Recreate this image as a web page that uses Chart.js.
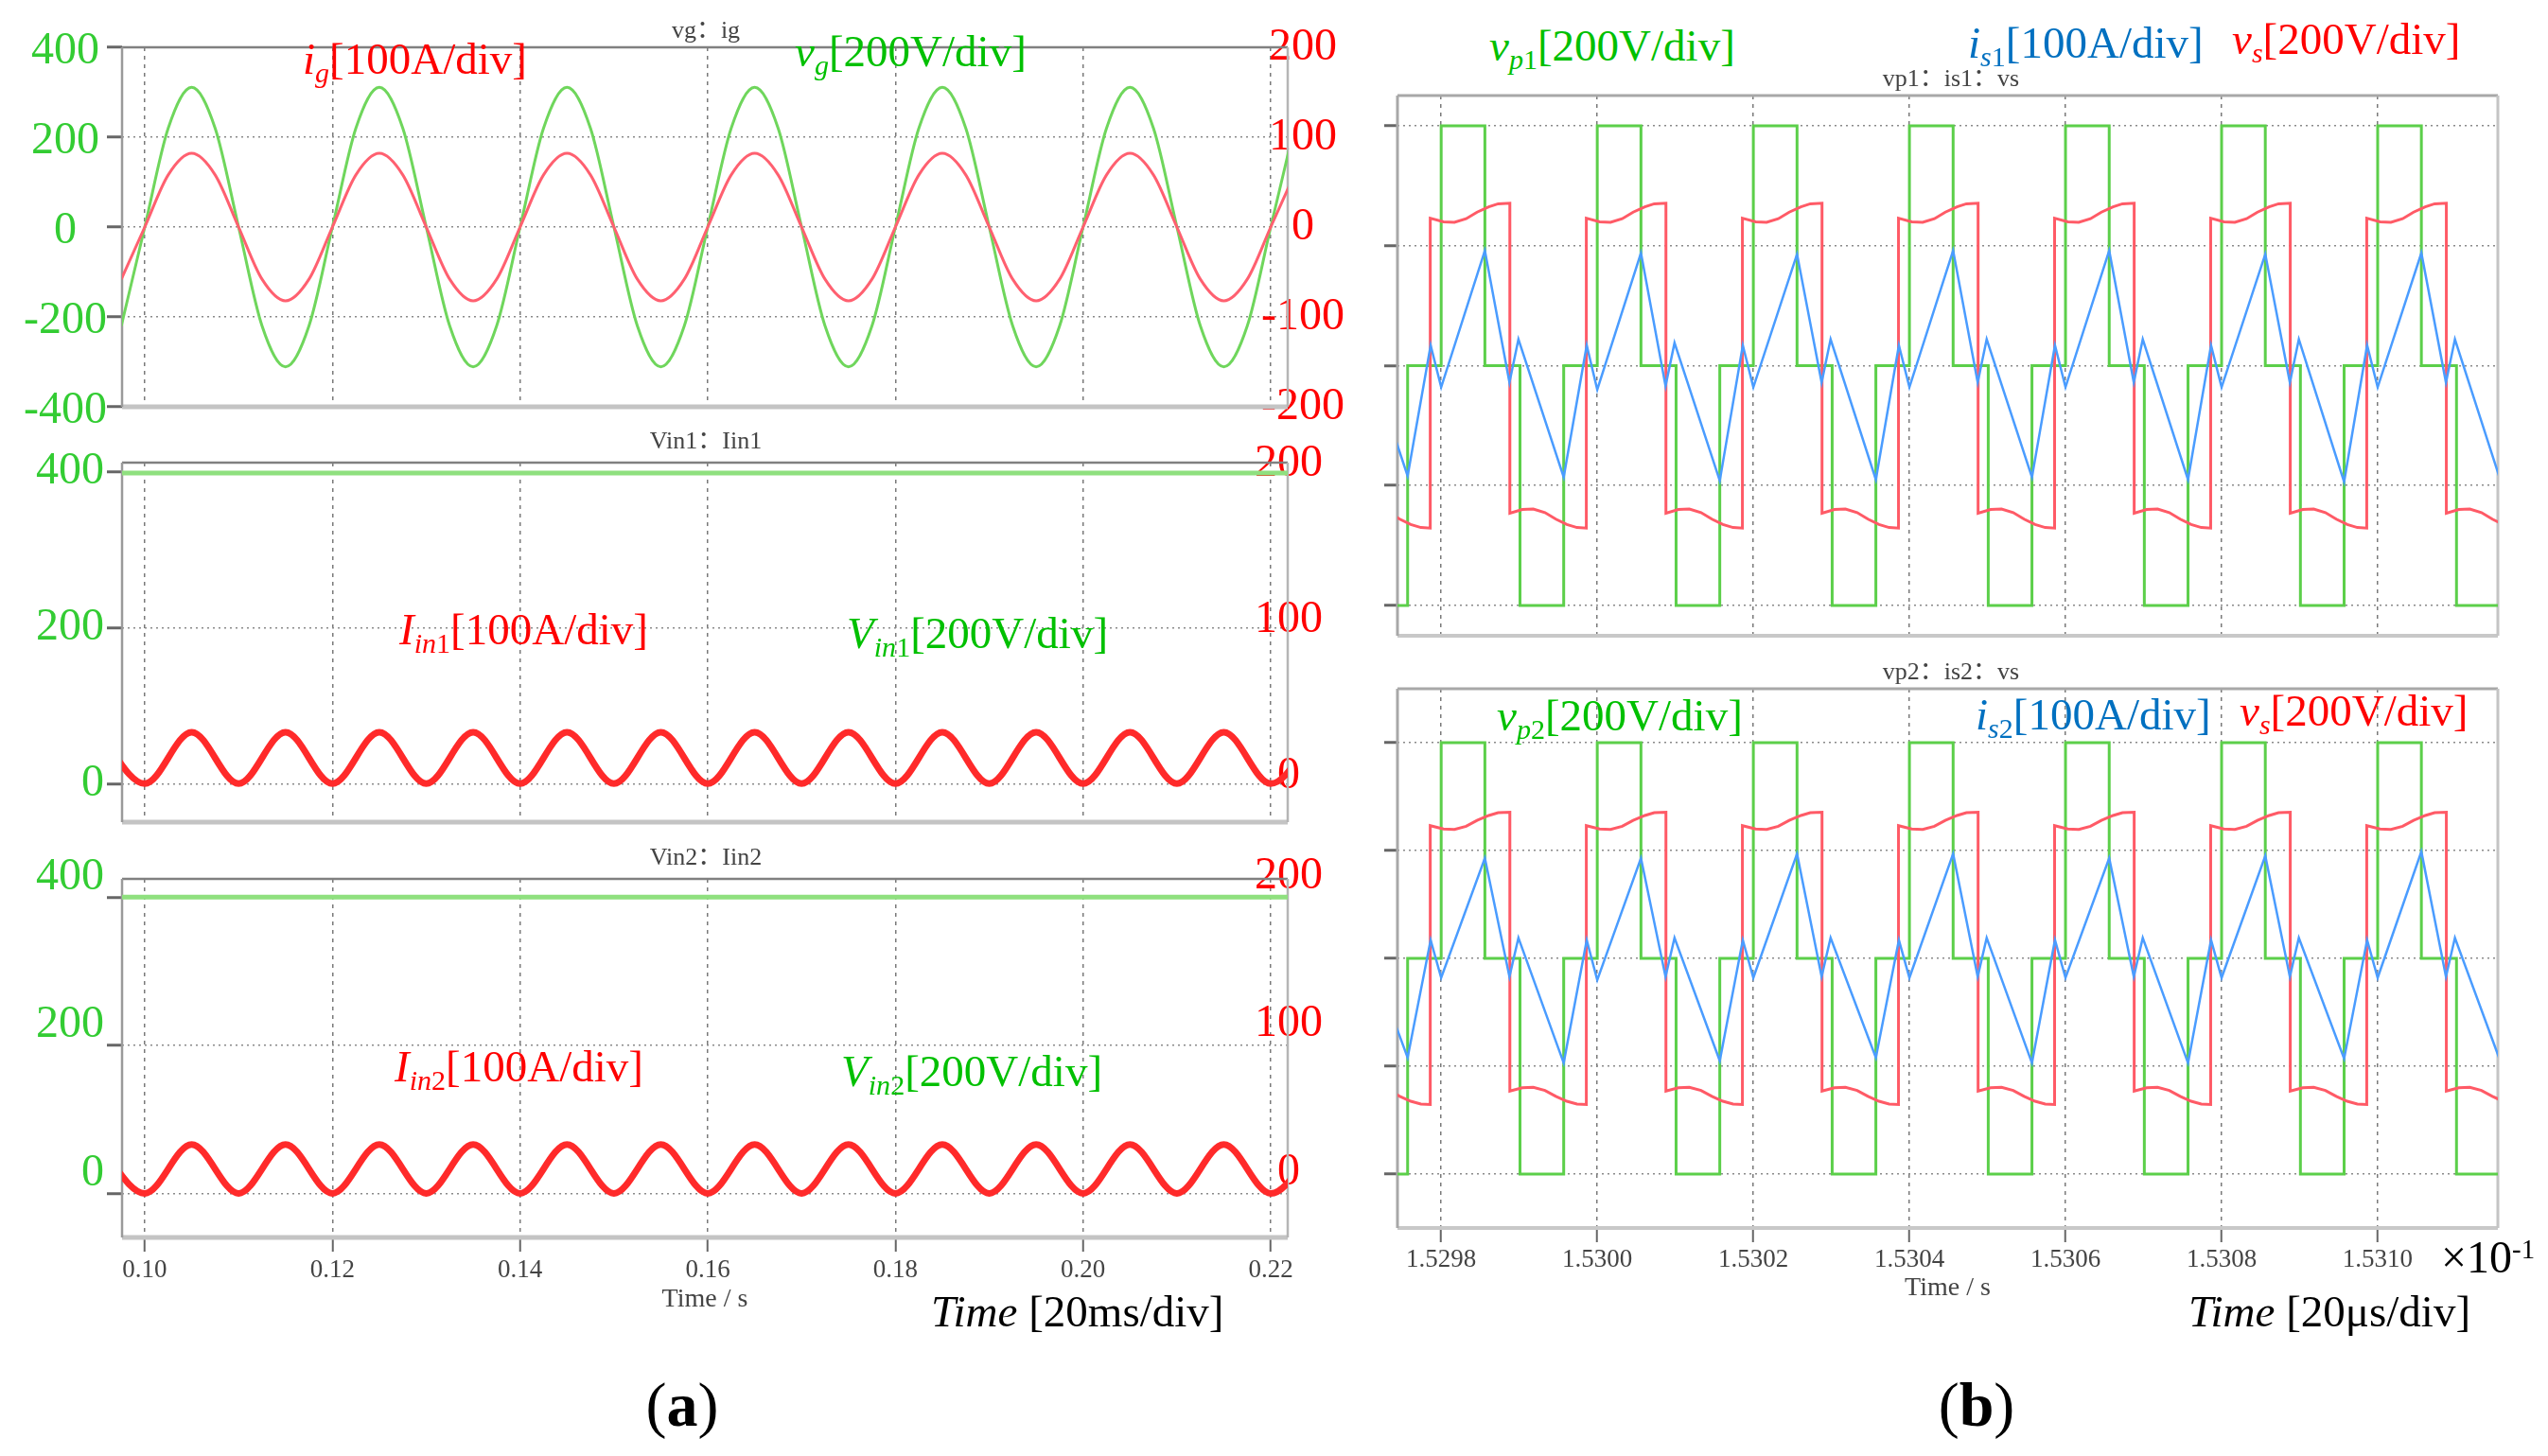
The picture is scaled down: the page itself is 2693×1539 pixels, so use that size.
<!DOCTYPE html>
<html>
<head>
<meta charset="utf-8">
<title>Grid side and DAB waveforms</title>
<script src="https://cdn.jsdelivr.net/npm/chart.js@4.4.1/dist/chart.umd.min.js"></script>
<style>
  html, body { margin: 0; padding: 0; background: #fff; }
  body { position: relative; width: 2693px; height: 1539px; overflow: hidden;
         font-family: "Liberation Serif", "Times New Roman", serif; }
  .box { position: absolute; }
  .box canvas { display: block; }
  .txt { position: absolute; white-space: nowrap; line-height: 1; }
  .ann { font-size: 47px; }
  .ann sub { font-size: 0.64em; line-height: 0; vertical-align: -0.3em; }
  .ttl { font-size: 26px; color: #444; transform: translate(-50%, -50%);
         font-family: "Liberation Serif", "Noto Sans CJK SC", serif; }
  .cap { font-size: 66px; transform: translateX(-50%); }
  .red { color: #ff0000; }
  .grn { color: #00c000; }
  .blu { color: #0070c0; }
</style>
</head>
<body>

<div class="box" style="left:0;top:20px;width:1441px;height:440px"><canvas id="gridChart"></canvas></div>
<div class="box" style="left:0;top:459px;width:1441px;height:440px"><canvas id="dc1Chart"></canvas></div>
<div class="box" style="left:0;top:899px;width:1441px;height:491px"><canvas id="dc2Chart"></canvas></div>
<div class="box" style="left:1450px;top:91px;width:1200px;height:591px"><canvas id="dab1Chart"></canvas></div>
<div class="box" style="left:1450px;top:718px;width:1200px;height:660px"><canvas id="dab2Chart"></canvas></div>

<div class="txt ttl" style="left:746px;top:32px">vg：ig</div>
<div class="txt ttl" style="left:746px;top:466px">Vin1：Iin1</div>
<div class="txt ttl" style="left:746px;top:906px">Vin2：Iin2</div>
<div class="txt ttl" style="left:2062px;top:83px">vp1：is1：vs</div>
<div class="txt ttl" style="left:2062px;top:710px">vp2：is2：vs</div>

<div class="txt ann red" style="left:320px;top:39px"><i>i</i><sub><i>g</i></sub>[100A/div]</div>
<div class="txt ann grn" style="left:840px;top:31px"><i>v</i><sub><i>g</i></sub>[200V/div]</div>
<div class="txt ann red" style="left:422px;top:642px"><i>I</i><sub><i>in</i>1</sub>[100A/div]</div>
<div class="txt ann grn" style="left:895px;top:646px"><i>V</i><sub><i>in</i>1</sub>[200V/div]</div>
<div class="txt ann red" style="left:417px;top:1104px"><i>I</i><sub><i>in</i>2</sub>[100A/div]</div>
<div class="txt ann grn" style="left:889px;top:1109px"><i>V</i><sub><i>in</i>2</sub>[200V/div]</div>
<div class="txt ann grn" style="left:1574px;top:25px"><i>v</i><sub><i>p</i>1</sub>[200V/div]</div>
<div class="txt ann blu" style="left:2080px;top:22px"><i>i</i><sub><i>s</i>1</sub>[100A/div]</div>
<div class="txt ann red" style="left:2359px;top:18px"><i>v</i><sub><i>s</i></sub>[200V/div]</div>
<div class="txt ann grn" style="left:1582px;top:733px"><i>v</i><sub><i>p</i>2</sub>[200V/div]</div>
<div class="txt ann blu" style="left:2088px;top:732px"><i>i</i><sub><i>s</i>2</sub>[100A/div]</div>
<div class="txt ann red" style="left:2367px;top:728px"><i>v</i><sub><i>s</i></sub>[200V/div]</div>
<div class="txt ann" style="left:984px;top:1363px;color:#000"><i>Time</i> [20ms/div]</div>
<div class="txt ann" style="left:2313px;top:1363px;color:#000"><i>Time</i> [20μs/div]</div>
<div class="txt" style="left:2580px;top:1305px;font-size:48px">×10<sup style="font-size:0.6em;vertical-align:15px;line-height:0">-1</sup></div>
<div class="txt cap" style="left:721px;top:1452px">(<b>a</b>)</div>
<div class="txt cap" style="left:2089px;top:1452px">(<b>b</b>)</div>

<script>
// ---------- (a) grid side, time in s ----------
const gridTime = [0.0975, 0.1000, 0.1025, 0.1050, 0.1075, 0.1100, 0.1125, 0.1150,
                  0.1175, 0.1200, 0.1225, 0.1250, 0.1275, 0.1300, 0.1325, 0.1350,
                  0.1375, 0.1400, 0.1425, 0.1450, 0.1475, 0.1500, 0.1525, 0.1550,
                  0.1575, 0.1600, 0.1625, 0.1650, 0.1675, 0.1700, 0.1725, 0.1750,
                  0.1775, 0.1800, 0.1825, 0.1850, 0.1875, 0.1900, 0.1925, 0.1950,
                  0.1975, 0.2000, 0.2025, 0.2050, 0.2075, 0.2100, 0.2125, 0.2150,
                  0.2175, 0.2200, 0.2225];
const vg = [-220, 0, 220, 311, 220, 0, -220, -311,
            -220, 0, 220, 311, 220, 0, -220, -311,
            -220, 0, 220, 311, 220, 0, -220, -311,
            -220, 0, 220, 311, 220, 0, -220, -311,
            -220, 0, 220, 311, 220, 0, -220, -311,
            -220, 0, 220, 311, 220, 0, -220, -311,
            -220, 0, 220];
const ig = [-58, 0, 58, 82, 58, 0, -58, -82,
            -58, 0, 58, 82, 58, 0, -58, -82,
            -58, 0, 58, 82, 58, 0, -58, -82,
            -58, 0, 58, 82, 58, 0, -58, -82,
            -58, 0, 58, 82, 58, 0, -58, -82,
            -58, 0, 58, 82, 58, 0, -58, -82,
            -58, 0, 58];

const dcTime = [0.095, 0.100, 0.105, 0.110, 0.115, 0.120, 0.125, 0.130, 0.135,
                0.140, 0.145, 0.150, 0.155, 0.160, 0.165, 0.170, 0.175, 0.180,
                0.185, 0.190, 0.195, 0.200, 0.205, 0.210, 0.215, 0.220, 0.225];
const iin1 = [33, 0, 33, 0, 33, 0, 33, 0, 33, 0, 33, 0, 33, 0, 33, 0, 33, 0, 33, 0, 33, 0, 33, 0, 33, 0, 33];
const iin2 = [33, 0, 33, 0, 33, 0, 33, 0, 33, 0, 33, 0, 33, 0, 33, 0, 33, 0, 33, 0, 33, 0, 33, 0, 33, 0, 33];
const vinTime = [0.09, 0.23];
const vin1 = [398, 398];
const vin2 = [400, 400];

const timeTicksA = [0.10, 0.12, 0.14, 0.16, 0.18, 0.20, 0.22];
const gridTicksV = [-400, -200, 0, 200, 400];
const gridTicksI = [-200, -100, 0, 100, 200];
const dcTicksV = [0, 200, 400];
const dcTicksI = [0, 100, 200];

// ---------- (b) DAB, time in us (axis labels are x 1e-1 s) ----------
const timeTicksB = [152980, 153000, 153020, 153040, 153060, 153080, 153100];
const bTicksV = [-400, -200, 0, 200, 400];

const vpTime = [152970.1, 152975.7,
                152980.0, 152985.6, 152990.1, 152995.7,
                153000.0, 153005.6, 153010.1, 153015.7,
                153020.0, 153025.6, 153030.1, 153035.7,
                153040.0, 153045.6, 153050.1, 153055.7,
                153060.0, 153065.6, 153070.1, 153075.7,
                153080.0, 153085.6, 153090.1, 153095.7,
                153100.0, 153105.6, 153110.1, 153115.7];
const vpLevel = [-400, 0,
                 400, 0, -400, 0,
                 400, 0, -400, 0,
                 400, 0, -400, 0,
                 400, 0, -400, 0,
                 400, 0, -400, 0,
                 400, 0, -400, 0,
                 400, 0, -400, 0];

const vsTime = [
  152968.8, 152970.4, 152971.8, 152973.3, 152974.7, 152976.1, 152977.4, 152978.6,
  152978.6, 152980.3, 152981.7, 152983.2, 152984.6, 152986.1, 152987.3, 152988.8,
  152988.8, 152990.4, 152991.8, 152993.3, 152994.7, 152996.1, 152997.4, 152998.6,
  152998.6, 153000.3, 153001.7, 153003.2, 153004.6, 153006.1, 153007.3, 153008.8,
  153008.8, 153010.4, 153011.8, 153013.3, 153014.7, 153016.1, 153017.4, 153018.6,
  153018.6, 153020.3, 153021.7, 153023.2, 153024.6, 153026.1, 153027.3, 153028.8,
  153028.8, 153030.4, 153031.8, 153033.3, 153034.7, 153036.1, 153037.4, 153038.6,
  153038.6, 153040.3, 153041.7, 153043.2, 153044.6, 153046.1, 153047.3, 153048.8,
  153048.8, 153050.4, 153051.8, 153053.3, 153054.7, 153056.1, 153057.4, 153058.6,
  153058.6, 153060.3, 153061.7, 153063.2, 153064.6, 153066.1, 153067.3, 153068.8,
  153068.8, 153070.4, 153071.8, 153073.3, 153074.7, 153076.1, 153077.4, 153078.6,
  153078.6, 153080.3, 153081.7, 153083.2, 153084.6, 153086.1, 153087.3, 153088.8,
  153088.8, 153090.4, 153091.8, 153093.3, 153094.7, 153096.1, 153097.4, 153098.6,
  153098.6, 153100.3, 153101.7, 153103.2, 153104.6, 153106.1, 153107.3, 153108.8,
  153108.8, 153110.4, 153111.8, 153113.3, 153114.7, 153116.1, 153117.4, 153118.6];
const vsValue = [
  -246, -240, -239, -245, -256, -265, -270, -271,
  246, 240, 239, 245, 256, 265, 270, 271,
  -246, -240, -239, -245, -256, -265, -270, -271,
  246, 240, 239, 245, 256, 265, 270, 271,
  -246, -240, -239, -245, -256, -265, -270, -271,
  246, 240, 239, 245, 256, 265, 270, 271,
  -246, -240, -239, -245, -256, -265, -270, -271,
  246, 240, 239, 245, 256, 265, 270, 271,
  -246, -240, -239, -245, -256, -265, -270, -271,
  246, 240, 239, 245, 256, 265, 270, 271,
  -246, -240, -239, -245, -256, -265, -270, -271,
  246, 240, 239, 245, 256, 265, 270, 271,
  -246, -240, -239, -245, -256, -265, -270, -271,
  246, 240, 239, 245, 256, 265, 270, 271,
  -246, -240, -239, -245, -256, -265, -270, -271];

const isTime = [152969.9, 152975.7, 152978.65,
                152980.0, 152985.6, 152988.75, 152989.9, 152995.7, 152998.65,
                153000.0, 153005.6, 153008.75, 153009.9, 153015.7, 153018.65,
                153020.0, 153025.6, 153028.75, 153029.9, 153035.7, 153038.65,
                153040.0, 153045.6, 153048.75, 153049.9, 153055.7, 153058.65,
                153060.0, 153065.6, 153068.75, 153069.9, 153075.7, 153078.65,
                153080.0, 153085.6, 153088.75, 153089.9, 153095.7, 153098.65,
                153100.0, 153105.6, 153108.75, 153109.9, 153115.7];
const is1 = [22, -92, 17,
             -18, 96, -14, 22, -93, 17,
             -20, 94, -17, 19, -96, 17,
             -18, 93, -14, 22, -95, 17,
             -18, 96, -14, 22, -93, 17,
             -18, 96, -14, 22, -95, 17,
             -18, 93, -14, 22, -97, 17,
             -18, 94, -14, 22, -95];
const is2 = [22, -92, 17,
             -18, 93, -17, 19, -97, 17,
             -20, 93, -17, 19, -95, 17,
             -18, 97, -17, 19, -92, 17,
             -18, 97, -17, 19, -97, 17,
             -18, 93, -17, 19, -97, 17,
             -18, 95, -17, 19, -93, 17,
             -18, 99, -17, 19, -95];

// ---------- drawing ----------
const SERIF = '"Liberation Serif", "Times New Roman", serif';
const pts = (xs, ys) => xs.map((x, i) => ({ x: x, y: ys[i] }));
const trace = (data, color, width, axis, extra) => Object.assign({
  data: data, borderColor: color, borderWidth: width, yAxisID: axis,
  pointRadius: 0, fill: false, tension: 0
}, extra || {});

// plot frame, one colour/width per side
const framePlugin = {
  id: 'frame',
  beforeDatasetsDraw(chart, args, o) {
    const ctx = chart.ctx, a = chart.chartArea;
    const side = (s, x1, y1, x2, y2) => {
      if (!s) return;
      ctx.save();
      ctx.strokeStyle = s[0];
      ctx.lineWidth = s[1];
      ctx.beginPath();
      ctx.moveTo(x1, y1);
      ctx.lineTo(x2, y2);
      ctx.stroke();
      ctx.restore();
    };
    side(o.top, a.left, a.top, a.right, a.top);
    side(o.bottom, a.left, a.bottom, a.right, a.bottom);
    side(o.left, a.left, a.top, a.left, a.bottom);
    side(o.right, a.right, a.top, a.right, a.bottom);
  }
};

// fixed axis sizes; label overhang is covered by layout padding instead
const fixWidth = w => s => { s.width = w; s.paddingTop = 0; s.paddingBottom = 0; };
const fixHeight = h => s => { s.height = h; s.paddingLeft = 0; s.paddingRight = 0; };

function scope(id, o) {
  const fixTicks = list => s => { s.ticks = list.map(v => ({ value: v })); };
  const y2 = o.y2;
  return new Chart(document.getElementById(id), {
    type: 'line',
    data: { datasets: o.datasets },
    options: {
      responsive: true,
      maintainAspectRatio: false,
      animation: false,
      devicePixelRatio: 1,
      layout: { padding: o.padding },
      plugins: { legend: { display: false }, tooltip: { enabled: false }, frame: o.frame },
      scales: {
        x: {
          type: 'linear', min: o.x.min, max: o.x.max,
          afterBuildTicks: fixTicks(o.x.ticks),
          afterFit: fixHeight(o.x.height),
          grid: { color: '#7a7a7a', lineWidth: 1.5, borderDash: [4, 5], drawTicks: o.x.labels,
                  tickLength: 15, tickColor: '#666', tickWidth: 2, tickBorderDash: [] },
          border: { display: false, dash: [4, 5] },
          ticks: { display: o.x.labels, autoSkip: false, maxRotation: 0, padding: o.x.pad,
                   color: '#444', font: { family: SERIF, size: 27 }, callback: o.x.format },
          title: { display: o.x.labels, text: 'Time / s', padding: 0, color: '#444',
                   font: { family: SERIF, size: 28 } }
        },
        y: {
          position: 'left', min: o.y.min, max: o.y.max,
          afterBuildTicks: fixTicks(o.y.ticks),
          afterFit: fixWidth(o.y.width),
          grid: { color: '#8a8a8a', lineWidth: 1.5, borderDash: [2, 4], tickLength: o.y.tickLen,
                  tickColor: '#666', tickWidth: 3, tickBorderDash: [] },
          border: { display: false, dash: [2, 4] },
          ticks: { display: o.y.labels, padding: o.y.pad, crossAlign: o.y.align,
                   labelOffset: o.y.offset, color: '#33cc33',
                   font: { family: SERIF, size: 48 }, callback: v => String(v) }
        },
        // right-hand current axis: mirrored so the labels may sit over the frame edge
        y2: {
          position: 'right', min: y2.min, max: y2.max, display: y2.show,
          afterBuildTicks: fixTicks(y2.ticks),
          afterFit: fixWidth(y2.width),
          grid: { drawOnChartArea: false, drawTicks: false },
          border: { display: false },
          ticks: { mirror: true, padding: y2.pad, crossAlign: 'center', labelOffset: y2.offset,
                   color: '#ff0000', font: { family: SERIF, size: 48 }, callback: v => String(v) }
        }
      }
    },
    plugins: [framePlugin]
  });
}

const frameA = { top: ['#808080', 2.5], left: ['#9a9a9a', 2.5], right: ['#b5b5b5', 2.5], bottom: ['#c4c4c4', 5] };
const frameB = { top: ['#a8a8a8', 3], left: ['#a8a8a8', 3], right: ['#c4c4c4', 3], bottom: ['#c8c8c8', 4] };
const noLabel = () => '';
const xA = { min: 0.09758, max: 0.22181, ticks: timeTicksA, labels: false, height: 0, pad: 0, format: noLabel };
const xB = { min: 152974.4, max: 153115.4, ticks: timeTicksB, labels: false, height: 0, pad: 0, format: noLabel };

scope('gridChart', {
  datasets: [
    trace(pts(gridTime, ig), '#ff6070', 3, 'y2', { cubicInterpolationMode: 'monotone' }),
    trace(pts(gridTime, vg), '#6fd65c', 3, 'y', { cubicInterpolationMode: 'monotone' })
  ],
  padding: { top: 30, bottom: 30, left: 0, right: 0 },
  frame: frameA,
  x: xA,
  y: { min: -400, max: 400, ticks: gridTicksV, width: 129, labels: true, align: 'center', pad: 0, tickLen: 16, offset: 4 },
  y2: { min: -200, max: 200, ticks: gridTicksI, width: 80, show: true, pad: 60, offset: 0 }
});

scope('dc1Chart', {
  datasets: [
    trace(pts(dcTime, iin1), '#ff2a2a', 7, 'y2', { cubicInterpolationMode: 'monotone' }),
    trace(pts(vinTime, vin1), '#8fe07f', 5, 'y')
  ],
  padding: { top: 30, bottom: 30, left: 0, right: 0 },
  frame: frameA,
  x: xA,
  y: { min: -49.3, max: 411.3, ticks: dcTicksV, width: 129, labels: true, align: 'near', pad: 3, tickLen: 16, offset: 0 },
  y2: { min: -24.65, max: 205.65, ticks: dcTicksI, width: 80, show: true, pad: 37, offset: -8 }
});

scope('dc2Chart', {
  datasets: [
    trace(pts(dcTime, iin2), '#ff2a2a', 7, 'y2', { cubicInterpolationMode: 'monotone' }),
    trace(pts(vinTime, vin2), '#8fe07f', 5, 'y')
  ],
  padding: { top: 30, bottom: 0, left: 0, right: 0 },
  frame: frameA,
  x: Object.assign({}, xA, { labels: true, height: 82, pad: 4, format: v => v.toFixed(2) }),
  y: { min: -59.5, max: 424.6, ticks: dcTicksV, width: 129, labels: true, align: 'near', pad: 3, tickLen: 16, offset: -21 },
  y2: { min: -29.75, max: 212.3, ticks: dcTicksI, width: 80, show: true, pad: 37, offset: -22 }
});

scope('dab1Chart', {
  datasets: [
    trace(pts(isTime, is1), '#4a9cff', 2.5, 'y2'),
    trace(pts(vsTime, vsValue), '#ff5a66', 3, 'y'),
    trace(pts(vpTime, vpLevel), '#5ccf4a', 3, 'y', { stepped: true })
  ],
  padding: { top: 10, bottom: 10, left: 0, right: 10 },
  frame: frameB,
  x: xB,
  y: { min: -450.5, max: 450.5, ticks: bTicksV, width: 27, labels: false, align: 'near', pad: 0, tickLen: 14, offset: 0 },
  y2: { min: -225.25, max: 225.25, ticks: [], width: 0, show: false, pad: 0, offset: 0 }
});

scope('dab2Chart', {
  datasets: [
    trace(pts(isTime, is2), '#4a9cff', 2.5, 'y2'),
    trace(pts(vsTime, vsValue), '#ff5a66', 3, 'y'),
    trace(pts(vpTime, vpLevel), '#5ccf4a', 3, 'y', { stepped: true })
  ],
  padding: { top: 10, bottom: 0, left: 0, right: 10 },
  frame: frameB,
  x: Object.assign({}, xB, { labels: true, height: 80, pad: 3, format: v => (v / 1e5).toFixed(4) }),
  y: { min: -500, max: 500, ticks: bTicksV, width: 27, labels: false, align: 'near', pad: 0, tickLen: 14, offset: 0 },
  y2: { min: -250, max: 250, ticks: [], width: 0, show: false, pad: 0, offset: 0 }
});
</script>
</body>
</html>
